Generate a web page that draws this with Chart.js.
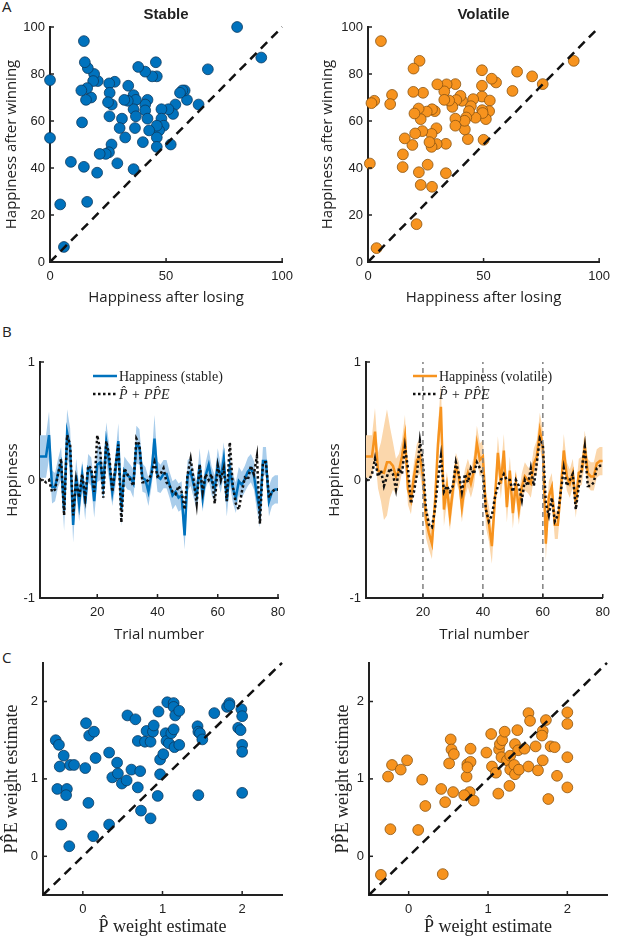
<!DOCTYPE html>
<html><head><meta charset="utf-8">
<script src="https://cdn.jsdelivr.net/npm/chart.js@4.4.1/dist/chart.umd.min.js"></script>
<style>
html,body{margin:0;padding:0;background:#fff;}
body{width:617px;height:938px;position:relative;overflow:hidden;}
canvas{position:absolute;}
.lbl{position:absolute;font-family:"Open Sans",sans-serif;font-size:15px;line-height:15px;color:#222;}
</style></head><body>
<div class="lbl" style="left:2px;top:-1px">A</div>
<div class="lbl" style="left:2px;top:324px">B</div>
<div class="lbl" style="left:2px;top:650px">C</div>
<canvas id="a1" width="300" height="310" style="left:0;top:0"></canvas>
<canvas id="a2" width="317" height="310" style="left:300px;top:0"></canvas>
<canvas id="b1" width="300" height="330" style="left:0;top:320px"></canvas>
<canvas id="b2" width="317" height="330" style="left:300px;top:320px"></canvas>
<canvas id="c1" width="300" height="288" style="left:0;top:650px"></canvas>
<canvas id="c2" width="317" height="288" style="left:300px;top:650px"></canvas>
<script>
// ---------- Panel A data (happiness after losing / winning) ----------
const stableLose = [80.6,91,68,64,59,58,57,56,54,53,51,52,48,48,49,47,46,46,46,45.6,46,44,41,38,42,41,41,42,42.7,40,36,37,36,37,36.6,36,33.7,33.5,32,31,32.4,30,29,27.9,25.5,25.7,26.6,25,25.6,26.5,25.4,24,21.4,20.3,20.6,19,18.6,17.7,16.3,16,15.5,15,14.6,13.5,13.8,14.6,16,9,4.4,6,0,0];
const stableWin = [100,87,82,67,69,73,73,72,67,63,65,50,65,61,58,56,58,53,49,85,79,79,81,83,69,67,64.5,61,56,51,71,69,65,62,57,39.5,75,68.6,69,61,53,57,42,76.7,76,72,67,68,62,50,46.7,46,46,38,77,80,77,70,82.5,74,69,85,94,73,59.4,40.5,25.6,42.6,24.5,6.4,77.4,52.8];
const volLose = [5.6,89,75.6,71,64.5,62.5,55.4,53.5,49.3,49.3,49.3,52.7,52.4,51,49.4,49.6,50,45.5,46.5,44.5,43.7,42.5,43.2,41.9,41.8,40.7,40,38.2,37.8,37.8,37.8,36.5,35.1,34,33,33,33.7,33.7,30,29.6,29.7,28.9,27.7,27.5,27.5,27.7,26.6,25.4,25.8,23.8,23.5,22.3,22.8,21.9,20.1,19.7,19.6,20.4,19.2,22,22.8,21,15.9,15.1,15,10.4,9.6,2.7,1.5,0.8,3.7];
const volWin = [94,85.6,75.7,79,81,72.8,76.4,78,81.6,75,70.4,68.7,64.2,60.8,64.6,63.4,52,69.3,61.4,66.3,64.2,61.5,52.3,56.4,60.1,68.6,70.7,68.9,75.7,61,58,66,68.7,75.6,72.6,69,50.3,37.8,75.6,56.9,50.2,64.2,65,54.5,49,32,51,64,41.4,72,55.7,85.6,60.8,65.3,63.2,82.3,72.4,54.7,49.8,38.2,32.8,16.1,52.6,45.8,40.4,71.1,67.2,68.6,67.6,41.9,5.9];
const aRange = [0, 100];
const aXTicks = [0, 50, 100];
const aYTicks = [0, 20, 40, 60, 80, 100];

// ---------- Panel B data (trial-by-trial happiness) ----------
const trials = Array.from({length: 80}, (_, i) => i + 1);
const stableMean = [0.2,0.2,0.2,0.38,-0.06,-0.06,0.06,0.14,-0.26,0.4,
  0.27,-0.38,0.04,-0.2,0.04,-0.2,0.1,0.07,-0.18,0.13,
  0.15,-0.04,0.32,0.14,-0.1,0.07,0.33,-0.25,0.08,0.04,
  0.02,-0.03,0.3,0.28,0.02,0.0,-0.1,0.05,0.35,0.03,
  0.01,0.05,0.05,-0.04,-0.13,-0.1,-0.15,-0.13,-0.47,0.04,
  0.07,-0.04,-0.13,0.13,-0.15,0.04,0.13,-0.01,-0.07,0.13,
  0.01,0.18,-0.18,0.1,-0.07,-0.15,-0.01,-0.04,0.01,0.07,
  0.1,0.04,-0.13,-0.27,0.16,0.16,-0.18,-0.1,-0.08,-0.08];
const stableErr = [0.18,0.18,0.18,0.2,0.14,0.12,0.12,0.14,0.17,0.2,
  0.17,0.15,0.14,0.15,0.12,0.14,0.12,0.12,0.14,0.15,
  0.15,0.13,0.17,0.15,0.12,0.13,0.15,0.14,0.12,0.12,
  0.11,0.12,0.16,0.15,0.12,0.11,0.12,0.11,0.2,0.13,
  0.12,0.12,0.12,0.11,0.12,0.11,0.12,0.12,0.12,0.13,
  0.12,0.11,0.12,0.14,0.12,0.11,0.13,0.12,0.11,0.14,
  0.12,0.14,0.13,0.14,0.12,0.13,0.12,0.11,0.11,0.12,
  0.12,0.12,0.13,0.13,0.12,0.12,0.13,0.12,0.12,0.12];
const stableModel = [0.0,0.0,-0.02,0.0,-0.1,-0.08,0.05,0.18,-0.3,0.38,
  0.3,-0.3,0.0,-0.15,0.05,-0.15,0.12,0.1,-0.1,0.38,
  0.25,-0.15,0.33,0.2,-0.1,0.1,0.3,-0.36,0.1,0.05,
  0.0,-0.05,0.35,0.3,-0.02,-0.02,0.0,0.05,0.15,0.03,
  0.05,0.1,-0.02,-0.05,-0.1,-0.12,-0.05,-0.1,-0.25,0.05,
  0.18,0.0,-0.2,0.13,-0.1,0.05,0.0,0.05,-0.2,0.12,
  0.0,0.1,-0.18,0.32,-0.05,-0.2,-0.25,-0.1,0.02,0.0,
  0.12,0.05,0.2,-0.37,0.15,0.15,-0.15,-0.1,-0.08,-0.08];
const volMean = [0.2,0.2,0.2,0.41,0.08,0.07,0.06,0.15,0.15,0.12,
  0.03,0.08,0.2,0.37,-0.08,-0.17,0.03,0.17,0.2,0.03,
  -0.34,-0.45,-0.54,-0.2,0.3,0.62,-0.25,-0.06,-0.3,-0.08,
  0.11,0.03,-0.23,-0.03,0.06,-0.03,0.08,0.31,0.17,0.2,
  -0.25,-0.37,-0.56,-0.17,0.23,-0.03,0.25,-0.23,0.08,-0.28,
  -0.03,-0.25,-0.06,0.03,0.0,-0.03,0.14,0.2,0.42,0.28,
  -0.54,-0.14,-0.06,-0.38,-0.38,-0.08,0.25,0.03,-0.03,0.06,
  -0.2,0.06,0.08,0.28,0.06,0.03,0.03,0.14,0.16,0.16];
const volErr = [0.18,0.18,0.18,0.2,0.15,0.25,0.4,0.45,0.3,0.2,
  0.15,0.14,0.14,0.18,0.13,0.12,0.12,0.14,0.15,0.14,
  0.15,0.14,0.13,0.13,0.15,0.2,0.14,0.13,0.13,0.12,
  0.12,0.12,0.13,0.12,0.12,0.12,0.13,0.15,0.14,0.14,
  0.15,0.15,0.15,0.13,0.14,0.13,0.14,0.13,0.12,0.13,
  0.12,0.13,0.12,0.12,0.11,0.12,0.13,0.14,0.15,0.14,
  0.14,0.13,0.12,0.12,0.12,0.12,0.14,0.12,0.12,0.12,
  0.12,0.12,0.12,0.14,0.12,0.12,0.12,0.12,0.12,0.12];
const volModel = [0.0,0.0,0.05,0.18,0.03,0.08,-0.05,0.03,0.1,0.05,
  -0.08,0.1,0.05,0.28,0.1,-0.2,-0.1,0.05,0.33,0.15,
  -0.25,-0.38,-0.4,-0.25,0.0,0.2,-0.1,-0.05,-0.1,-0.05,
  0.15,0.05,-0.1,0.05,-0.02,0.1,0.05,0.15,0.1,0.05,
  -0.25,-0.35,-0.3,-0.15,-0.05,0.0,0.05,0.0,0.0,-0.1,
  0.0,-0.05,-0.17,0.0,-0.05,0.1,-0.05,0.15,0.35,0.3,
  -0.2,-0.3,-0.15,-0.35,-0.3,-0.1,0.1,-0.05,0.0,0.05,
  -0.25,-0.05,0.1,0.28,-0.05,-0.05,-0.02,0.1,0.12,0.12];
const switchTrials = [20, 40, 60];
const bXRange = [1, 80];
const bYRange = [-1, 1];
const bXTicks = [20, 40, 60, 80];
const bYTicks = [-1, 0, 1];

// ---------- Panel C data (weight estimates) ----------
const cStableP = [-0.34,-0.30,-0.24,-0.29,-0.16,-0.11,-0.32,-0.2,-0.21,-0.27,-0.17,0.04,0.08,0.14,0.03,0.16,0.07,0.13,0.33,0.43,0.37,0.44,0.49,0.55,0.61,0.72,0.69,0.73,0.85,0.33,0.56,0.66,0.69,0.78,0.85,0.8,0.88,0.89,0.95,0.97,1.01,0.97,0.94,1.06,1.04,1.05,1.08,1.11,1.14,1.14,1.14,1.15,1.16,1.21,1.21,1.44,1.45,1.47,1.5,1.45,1.65,1.81,1.84,1.84,1.99,2,1.95,1.98,2,2,2];
const cStablePPE = [1.5,1.44,1.3,1.16,1.18,1.18,0.87,0.87,0.79,0.41,0.13,1.72,1.56,1.61,1.14,1.27,0.69,0.26,1.34,1.21,1.02,1.07,0.94,0.98,1.12,1.1,0.89,0.59,0.49,0.41,1.82,1.77,1.49,1.48,1.48,1.62,1.61,1.69,1.87,1.25,1.32,1.06,0.78,1.99,1.59,1.49,1.46,1.59,1.98,1.93,1.64,1.41,1.82,1.88,1.44,1.68,1.61,1.59,1.51,0.79,1.85,1.93,1.98,1.95,1.9,1.81,1.66,1.63,1.44,1.35,0.82];
const cVolP = [-0.35,-0.23,-0.26,-0.21,-0.1,-0.02,0.17,0.21,0.12,0.41,0.46,0.43,0.51,0.53,0.54,0.57,0.56,0.74,0.73,0.78,0.78,0.74,0.77,0.7,0.82,0.98,1.04,1.05,1.1,1.13,1.14,1.15,1.18,1.17,1.21,1.24,1.27,1.28,1.28,1.33,1.34,1.34,1.37,1.38,1.39,1.46,1.51,1.53,1.51,1.6,1.63,1.69,1.69,1.68,1.73,1.76,1.79,1.84,1.87,2,2,2,2];
const cVolPPE = [-0.24,0.35,1.03,1.18,1.12,1.24,0.99,0.65,0.34,0.87,0.7,-0.23,1.2,1.51,1.38,1.32,0.83,1.19,1.03,1.39,1.22,1.15,0.83,0.79,0.72,1.34,1.58,1.16,1.08,0.81,1.38,1.45,1.5,1.28,1.61,1.24,0.91,1.3,1.12,1.18,1.45,1.06,1.63,1.37,1.12,1.39,1.85,1.75,1.16,1.42,1.11,1.24,1.62,1.56,1.76,0.74,1.42,1.41,1.04,1.86,1.71,1.28,0.89];
const cRange = [-0.5, 2.5];
const cTicks = [0, 1, 2];

// ---------- styling ----------
const INK = '#222';
const BLUE = '#0072BD', BLUE_EDGE = '#0b3a60', BLUE_BAND = '#A9CDEB';
const ORANGE = '#F7931E', ORANGE_EDGE = '#8a5412', ORANGE_BAND = '#FBD7AC';
const FONT_TICK = {family: '"Liberation Sans", Arial, sans-serif', size: 13};
const FONT_TITLE = {family: '"Open Sans", sans-serif', size: 15};
const FONT_SERIF = {family: '"Liberation Serif", "DejaVu Serif", serif', size: 18};
const SERIF_LEG = '14px "Liberation Serif", "DejaVu Serif", serif';
const SERIF_LEG_I = 'italic 14px "Liberation Serif", "DejaVu Serif", serif';

function scaleX(o) {
  return {
    type: 'linear', position: 'bottom', min: o.range[0], max: o.range[1],
    afterFit: s => { s.height = o.h; },
    afterBuildTicks: s => { s.ticks = o.ticks.map(v => ({value: v})); },
    grid: {display: false, drawTicks: false},
    border: {display: true, color: INK, width: 2},
    ticks: {padding: 7, color: INK, font: FONT_TICK, autoSkip: false, maxRotation: 0, callback: v => String(v)},
    title: {display: true, text: o.title, color: INK, font: o.tfont || FONT_TITLE, padding: {top: 0, bottom: o.tpad}}
  };
}
function scaleY(o) {
  return {
    type: 'linear', position: 'left', min: o.range[0], max: o.range[1],
    afterFit: s => { s.width = o.w; },
    afterBuildTicks: s => { s.ticks = o.ticks.map(v => ({value: v})); },
    grid: {display: false, drawTicks: false},
    border: {display: true, color: INK, width: 2},
    ticks: {padding: 5, color: INK, font: FONT_TICK, autoSkip: false, callback: v => String(v)},
    title: {display: true, text: o.title, color: INK, font: o.tfont || FONT_TITLE, padding: {top: o.tpad, bottom: 0}}
  };
}

const inTicks = {
  id: 'inTicks',
  afterDraw(chart) {
    const ctx = chart.ctx, ca = chart.chartArea, xs = chart.scales.x, ys = chart.scales.y;
    ctx.save();
    ctx.strokeStyle = INK; ctx.lineWidth = 1.5;
    xs.ticks.forEach(t => { const p = xs.getPixelForValue(t.value); ctx.beginPath(); ctx.moveTo(p, ca.bottom); ctx.lineTo(p, ca.bottom - 4); ctx.stroke(); });
    ys.ticks.forEach(t => { const p = ys.getPixelForValue(t.value); ctx.beginPath(); ctx.moveTo(ca.left, p); ctx.lineTo(ca.left + 4, p); ctx.stroke(); });
    ctx.restore();
  }
};
const inLegend = {
  id: 'inLegend',
  afterDraw(chart, args, opts) {
    if (!opts || !opts.items) return;
    const ctx = chart.ctx, ca = chart.chartArea;
    opts.items.forEach((it, i) => {
      const ds = chart.data.datasets[it.ds];
      const y = ca.top + opts.dy + i * opts.row;
      const x0 = ca.left + opts.dx;
      ctx.save();
      ctx.strokeStyle = ds.borderColor; ctx.lineWidth = ds.borderWidth;
      ctx.setLineDash(ds.borderDash || []);
      ctx.beginPath(); ctx.moveTo(x0, y); ctx.lineTo(x0 + opts.len, y); ctx.stroke();
      ctx.setLineDash([]);
      ctx.fillStyle = INK; ctx.font = it.font; ctx.textBaseline = 'middle'; ctx.textAlign = 'left';
      ctx.fillText(ds.label, x0 + opts.len + 2, y + 1);
      ctx.restore();
    });
  }
};

function scatterChart(id, o) {
  return new Chart(document.getElementById(id), {
    type: 'scatter',
    data: {datasets: [
      {label: 'identity', data: o.diag.map(v => ({x: v, y: v})), showLine: true, borderColor: '#111', borderWidth: 2.5, borderDash: [9, 6], pointRadius: 0, order: 0, clip: false},
      {label: o.label, data: o.xs.map((v, i) => ({x: v, y: o.ys[i]})), backgroundColor: o.fill, borderColor: o.edge, borderWidth: 0.8, pointRadius: 5.4, order: 1, clip: false}
    ]},
    options: {
      responsive: false, animation: false, events: [],
      layout: {padding: o.pad},
      plugins: {legend: {display: false}, tooltip: {enabled: false},
        title: o.ttl ? {display: true, text: o.ttl, fullSize: false, color: INK, font: {family: '"Liberation Sans", Arial, sans-serif', size: 15, weight: 'bold'}, padding: {top: 6, bottom: 3}} : {display: false}},
      scales: {x: scaleX(o.sx), y: scaleY(o.sy)}
    },
    plugins: [inTicks]
  });
}

function trialChart(id, o) {
  const ds = [
    {label: '\u0050\u0302 + P\u0050\u0302E', data: trials.map((t, i) => ({x: t, y: o.model[i]})), borderColor: '#111', borderWidth: 2.5, borderDash: [2.5, 2.5], pointRadius: 0, fill: false, order: 1},
    {label: o.label, data: trials.map((t, i) => ({x: t, y: o.mean[i]})), borderColor: o.color, borderWidth: 2.5, pointRadius: 0, fill: false, order: 2},
    {label: 'upper', data: trials.map((t, i) => ({x: t, y: o.mean[i] + o.err[i]})), borderColor: 'rgba(0,0,0,0)', borderWidth: 0, pointRadius: 0, backgroundColor: o.band, fill: '+1', order: 3},
    {label: 'lower', data: trials.map((t, i) => ({x: t, y: o.mean[i] - o.err[i]})), borderColor: 'rgba(0,0,0,0)', borderWidth: 0, pointRadius: 0, fill: false, order: 3}
  ];
  (o.switches || []).forEach(t => ds.push({label: 'switch', data: bYRange.map(v => ({x: t, y: v})), borderColor: '#808080', borderWidth: 1.5, borderDash: [5, 4], pointRadius: 0, fill: false, order: 0}));
  return new Chart(document.getElementById(id), {
    type: 'line',
    data: {datasets: ds},
    options: {
      responsive: false, animation: false, events: [],
      layout: {padding: o.pad},
      plugins: {legend: {display: false}, tooltip: {enabled: false},
        inLegend: {dx: o.legDx, dy: 14, row: 18, len: 24, items: [{ds: 1, font: SERIF_LEG}, {ds: 0, font: SERIF_LEG_I}]}},
      scales: {
        x: scaleX({range: bXRange, ticks: bXTicks, h: 52, title: 'Trial number', tpad: 6}),
        y: scaleY({range: bYRange, ticks: bYTicks, w: o.yw, title: 'Happiness', tpad: 4})
      }
    },
    plugins: [inTicks, inLegend]
  });
}

// Panel A
scatterChart('a1', {label: 'Stable', ttl: 'Stable', xs: stableLose, ys: stableWin, fill: BLUE, edge: BLUE_EDGE, diag: aRange,
  pad: {left: 0, right: 13, top: 0, bottom: 0},
  sx: {range: aRange, ticks: aXTicks, h: 48, title: 'Happiness after losing', tpad: 3},
  sy: {range: aRange, ticks: aYTicks, w: 50, title: 'Happiness after winning', tpad: 3}});
scatterChart('a2', {label: 'Volatile', ttl: 'Volatile', xs: volLose, ys: volWin, fill: ORANGE, edge: ORANGE_EDGE, diag: aRange,
  pad: {left: 16, right: 12, top: 0, bottom: 0},
  sx: {range: aRange, ticks: aXTicks, h: 48, title: 'Happiness after losing', tpad: 3},
  sy: {range: aRange, ticks: aYTicks, w: 52, title: 'Happiness after winning', tpad: 3}});

// Panel B
trialChart('b1', {label: 'Happiness (stable)', mean: stableMean, err: stableErr, model: stableModel, color: BLUE, band: BLUE_BAND,
  pad: {left: 0, right: 22, top: 42, bottom: 0}, yw: 40, legDx: 53});
trialChart('b2', {label: 'Happiness (volatile)', mean: volMean, err: volErr, model: volModel, color: ORANGE, band: ORANGE_BAND, switches: switchTrials,
  pad: {left: 22, right: 14, top: 42, bottom: 0}, yw: 44, legDx: 47});

// Panel C
scatterChart('c1', {label: 'Stable weights', xs: cStableP, ys: cStablePPE, fill: BLUE, edge: BLUE_EDGE, diag: cRange,
  pad: {left: 0, right: 18, top: 8, bottom: 0},
  sx: {range: cRange, ticks: cTicks, h: 43, title: '\u0050\u0302 weight estimate', tfont: FONT_SERIF, tpad: 0},
  sy: {range: cRange, ticks: cTicks, w: 43, title: 'P\u0050\u0302E weight estimate', tfont: FONT_SERIF, tpad: 1}});
scatterChart('c2', {label: 'Volatile weights', xs: cVolP, ys: cVolPPE, fill: ORANGE, edge: ORANGE_EDGE, diag: cRange,
  pad: {left: 30, right: 10, top: 8, bottom: 0},
  sx: {range: cRange, ticks: cTicks, h: 43, title: '\u0050\u0302 weight estimate', tfont: FONT_SERIF, tpad: 0},
  sy: {range: cRange, ticks: cTicks, w: 39, title: 'P\u0050\u0302E weight estimate', tfont: FONT_SERIF, tpad: 2}});
</script>
</body></html>
